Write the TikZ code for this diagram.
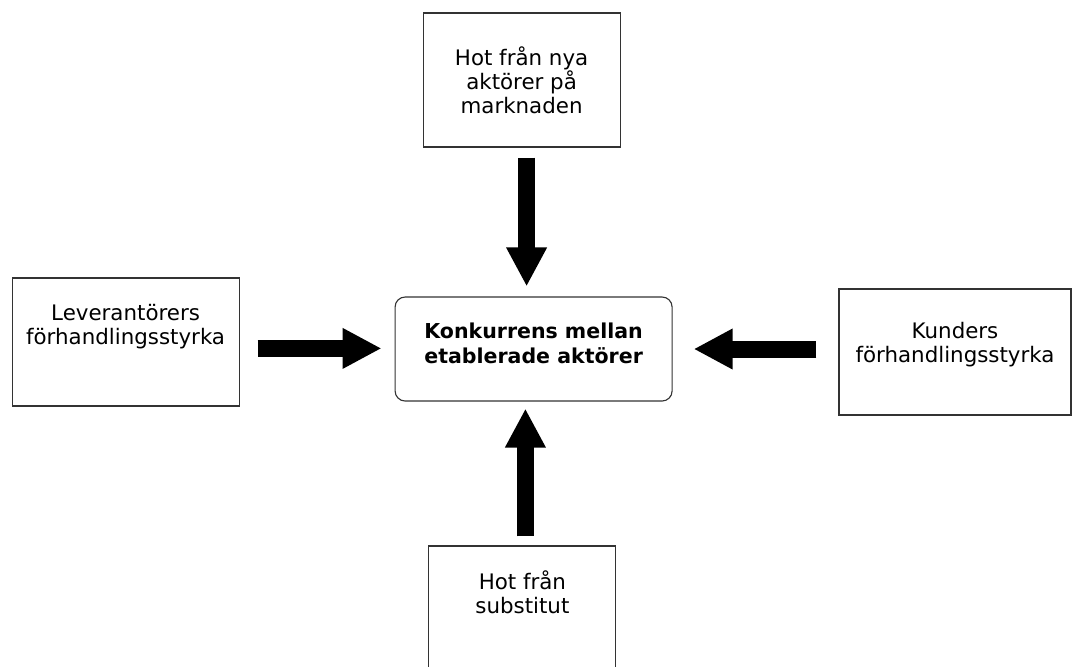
\documentclass[tikz,border=0pt]{standalone}
\usepackage{fontspec}
\setmainfont{DejaVu Sans}
\usetikzlibrary{arrows.meta}

\begin{document}
\begin{tikzpicture}[
  box/.style={draw=black!80, line width=0.8pt, align=center, inner sep=0pt,
    font=\fontsize{15.2pt}{17.1pt}\selectfont},
  hub/.style={box, rounded corners=0.25cm,
    font=\fontsize{14.6pt}{17.8pt}\selectfont\bfseries},
  arr/.style={-{Triangle[length=0.975cm, width=0.95cm]}, line width=0.425cm}
]
\useasboundingbox (0,0) rectangle (26.8,-16.65);
\node[hub, minimum width=6.925cm, minimum height=2.6cm, text depth=0.28cm]
  (core) at (13.34,-8.725) {Konkurrens mellan\\etablerade aktörer};
\node[box, minimum width=4.925cm, minimum height=3.35cm]
  (entrants) at (13.04,-2.0) {Hot från nya\\aktörer på\\marknaden};
\node[box, minimum width=5.675cm, minimum height=3.2cm, text depth=0.88cm]
  (suppliers) at (3.14,-8.55) {Leverantörers\\förhandlingsstyrka};
\node[box, minimum width=5.8cm, minimum height=3.15cm, text depth=0.48cm]
  (buyers) at (23.875,-8.8) {Kunders\\förhandlingsstyrka};
\node[box, minimum width=4.675cm, minimum height=3.35cm, text depth=1.05cm]
  (substitutes) at (13.06,-15.325) {Hot från\\substitut};
\draw[arr, shorten <=0.25cm, shorten >=0.25cm]
  ([xshift=0.125cm]entrants.south) -- ([xshift=0.125cm]entrants.south |- core.north);
\draw[arr, shorten <=0.45cm, shorten >=0.325cm]
  ([yshift=-0.16cm]suppliers.east) -- ([yshift=-0.16cm]suppliers.east -| core.west);
\draw[arr, shorten <=0.55cm, shorten >=0.525cm]
  ([yshift=0.075cm]buyers.west) -- ([yshift=0.075cm]buyers.west -| core.east);
\draw[arr, shorten <=0.225cm, shorten >=0.175cm]
  ([xshift=0.075cm]substitutes.north) -- ([xshift=0.075cm]substitutes.north |- core.south);
\end{tikzpicture}
\end{document}
